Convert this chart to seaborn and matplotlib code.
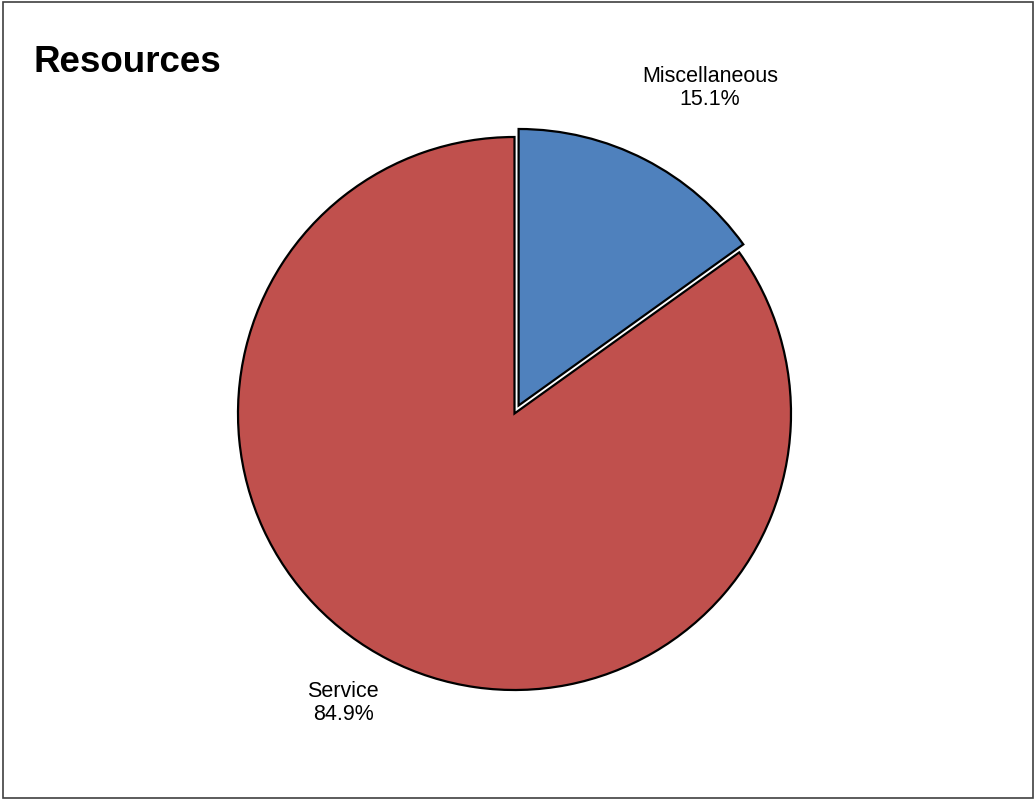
import matplotlib
matplotlib.use("Agg")
import matplotlib.pyplot as plt
from matplotlib.patches import Rectangle
import seaborn as sns

categories = ["Miscellaneous", "Service"]
shares = [15.1, 84.9]
colors = ["#4F81BD", "#C0504D"]
title = "Resources"

sns.set_theme(style="white")
plt.rcParams["font.family"] = ["Liberation Sans", "DejaVu Sans"]

W, H = 1035, 800
fig = plt.figure(figsize=(W / 100, H / 100), dpi=100)
fig.patch.set_facecolor("white")
ax = fig.add_axes([0, 0, 1, 1])

cx, cy, r = 514.5, H - 413.5, 276.5
wedges, _ = ax.pie(
    shares,
    colors=colors,
    startangle=90,
    counterclock=False,
    explode=[9, 0],
    center=(cx, cy),
    radius=r,
    wedgeprops=dict(edgecolor="black", linewidth=1.6),
)
ax.set_xlim(0, W)
ax.set_ylim(0, H)
ax.set_aspect("equal")
ax.axis("off")

label_pos = [(710, H - 88), (343, H - 703)]
for cat, val, (lx, ly) in zip(categories, shares, label_pos):
    ax.text(lx, ly, f"{cat}\n{val:.1f}%", ha="center", va="center",
            fontsize=15.5, color="black", linespacing=1.1)

ax.text(34, H - 63, title, ha="left", va="center", fontsize=26.5,
        fontweight="bold", color="black")

fig.patches.append(Rectangle((3 / W, 2 / H), 1030 / W, 796 / H,
                             transform=fig.transFigure, fill=False,
                             edgecolor="#404040", linewidth=1.2))

fig.savefig("out.png", dpi=100, facecolor="white")
